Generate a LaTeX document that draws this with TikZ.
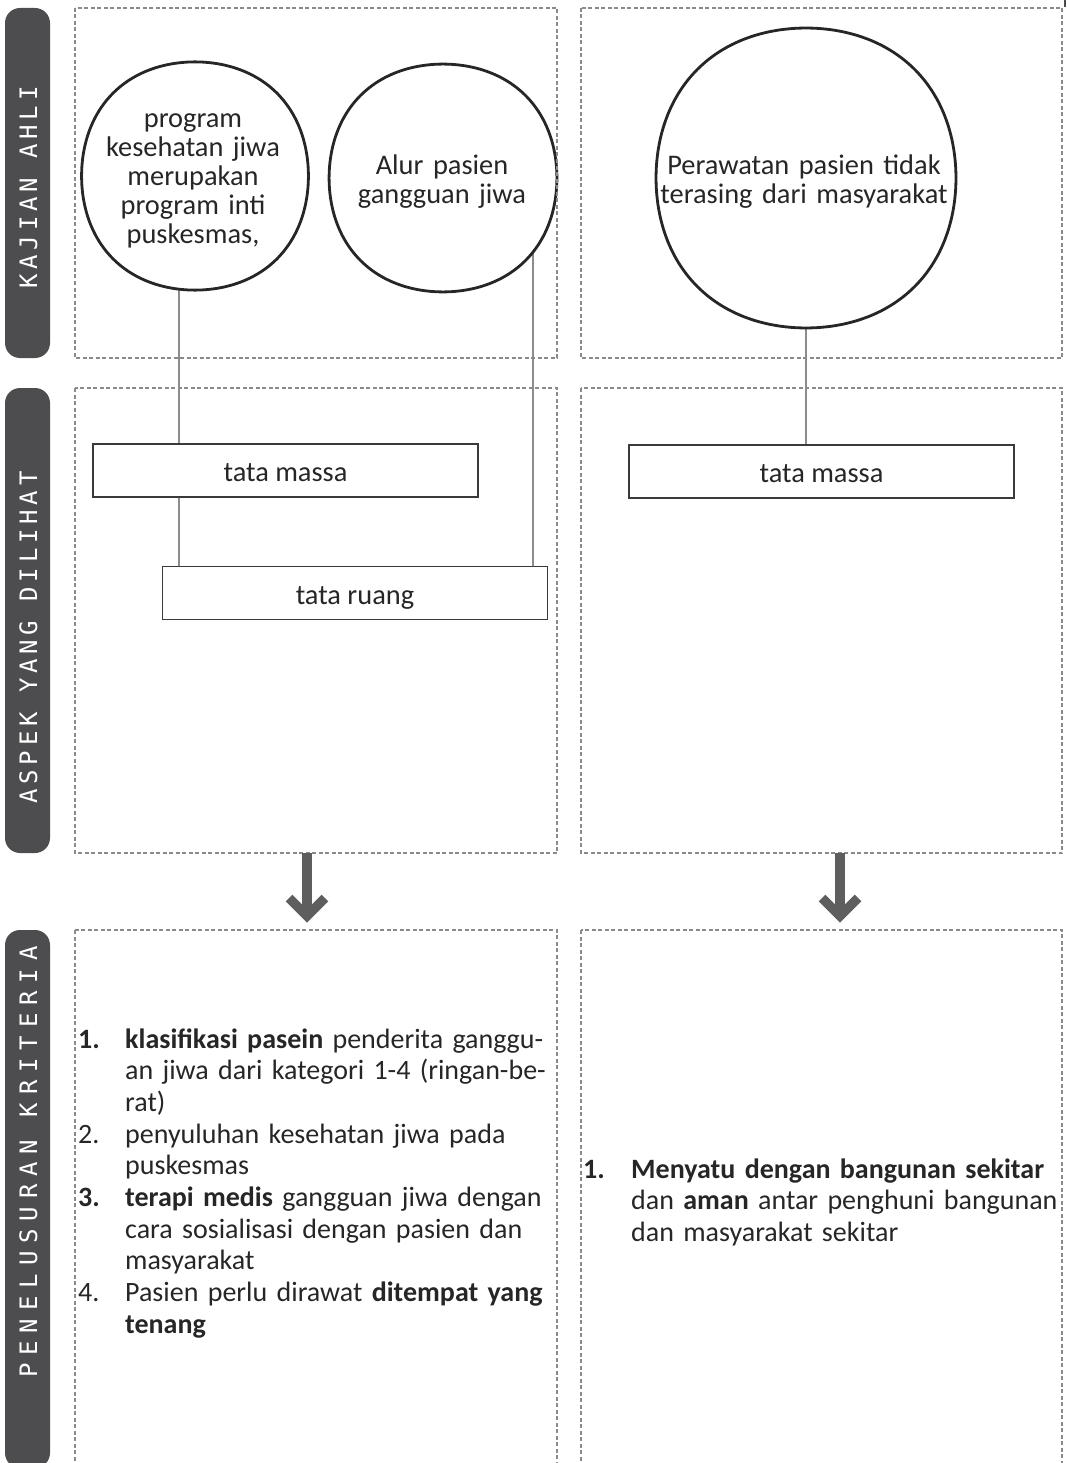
\documentclass[tikz,border=0pt]{standalone}
\usepackage{fontspec}
\setmainfont{Carlito}
\newfontfamily\tabfontA[LetterSpace=20]{DejaVu Sans Mono}
\newfontfamily\tabfontB[LetterSpace=33]{DejaVu Sans Mono}
\usetikzlibrary{calc}
\pgfdeclarelayer{links}
\pgfdeclarelayer{shapes}
\pgfsetlayers{links,shapes,main}

\definecolor{ink}{HTML}{262626}
\definecolor{tabgray}{HTML}{4D4D4F}
\definecolor{dashgray}{HTML}{8A8A8A}
\definecolor{linkgray}{HTML}{8C8C8C}
\definecolor{boxgray}{HTML}{3A3A3A}
\definecolor{arrowgray}{HTML}{5E5E5E}

% list item with hanging number
\newcommand\listitem[3]{\noindent\hangindent=#1\hangafter=1\makebox[#1][l]{#2}#3\par}

\begin{document}
\begin{tikzpicture}[x=1pt,y=-1pt,
  panel/.style={draw=dashgray, line width=1.2pt, dash pattern=on 4pt off 2.5pt},
  tabbar/.style={fill=tabgray, rounded corners=15pt},
  tablabel/.style={rotate=90, text=white, inner sep=0pt},
  blob/.style={draw=ink, line width=2.8pt, fill=white},
  anchorcircle/.style={circle, inner sep=0pt, draw=none},
  bubbletext/.style={text=ink, inner sep=0pt, align=center, font=\fontsize{28.4}{29}\selectfont},
  aspectbox/.style={draw=boxgray, line width=1.4pt, fill=white, minimum width=385pt,
    minimum height=53pt, inner sep=0pt, text height=22pt, text depth=0pt,
    text=ink, font=\fontsize{28.4}{29}\selectfont},
  link/.style={draw=linkgray, line width=1.5pt},
  bigarrow/.style={draw=arrowgray, line width=9.5pt},
  listtext/.style={text=ink, inner sep=0pt, text width=540pt,
    font=\fontsize{28}{31.7}\selectfont}
]
\useasboundingbox (0,0) rectangle (1066,1463);
\clip (0,0) rectangle (1066,1463);

% side bars with their titles
\fill[tabbar] (5,8) rectangle (50,358);
\fill[tabbar] (5,388) rectangle (50,853);
\fill[tabbar] (5,930) rectangle (50,1468);
\node[tablabel, font=\tabfontA\fontsize{24}{24}\selectfont] (lab1) at (28.5,187.5) {KAJIAN AHLI};
\node[tablabel, font=\tabfontA\fontsize{24}{24}\selectfont] (lab2) at (28.5,637.5) {ASPEK YANG DILIHAT};
\node[tablabel, font=\tabfontB\fontsize{24}{24}\selectfont] (lab3) at (28.5,1162) {PENELUSURAN KRITERIA};

% dashed panels
\draw[panel] (75,8) rectangle (557,358);
\draw[panel] (581,8) rectangle (1062,358);
\draw[panel] (75,388) rectangle (557,853);
\draw[panel] (581,388) rectangle (1062,853);
\draw[panel] (75,930) rectangle (557,1480);
\draw[panel] (581,930) rectangle (1062,1480);
\draw[draw=tabgray, line width=2pt] (1065,0) -- (1065,7);

% bubbles
\node[anchorcircle, minimum size=228pt] (c1) at (195,176) {};
\node[anchorcircle, minimum size=228pt] (c2) at (443,178) {};
\node[anchorcircle, minimum size=302pt] (c3) at (806,178) {};
\begin{pgfonlayer}{shapes}
\draw[blob, shift={(c1.center)}] plot[smooth cycle, domain=0:355, samples=72]
  ({114.8*(1-0.012*cos(4*\x))*cos(\x)}, {115.5*(1-0.012*cos(4*\x))*sin(\x)});
\draw[blob, shift={(c2.center)}] plot[smooth cycle, domain=0:355, samples=72]
  ({115.3*(1-0.012*cos(4*\x))*cos(\x)}, {115.3*(1-0.012*cos(4*\x))*sin(\x)});
\draw[blob, shift={(c3.center)}] plot[smooth cycle, domain=0:355, samples=72]
  ({151.8*(1-0.012*cos(4*\x))*cos(\x)}, {151.8*(1-0.012*cos(4*\x))*sin(\x)});
\end{pgfonlayer}
\node[bubbletext, text width=240pt, anchor=base] (t1) at (193,128)
  {program\\kesehatan jiwa\\merupakan\\program inti\\puskesmas,};
\node[bubbletext, text width=240pt, anchor=base] (t2) at (442,175)
  {Alur pasien\\gangguan jiwa};
\node[bubbletext, text width=310pt, anchor=base] (t3) at (804,175)
  {Perawatan pasien tidak\\terasing dari masyarakat};

% aspect boxes
\node[aspectbox] (m1) at (285.5,470.5) {tata massa};
\node[aspectbox] (r1) at (355,593) {tata ruang};
\node[aspectbox] (m2) at (821.5,471.5) {tata massa};

% connectors
\coordinate (lx1) at (179,0);
\coordinate (lx2) at (533,0);
\begin{pgfonlayer}{links}
\draw[link] (c1.center -| lx1) -- (m1.north -| lx1);
\draw[link] (m1.south -| lx1) -- (r1.north -| lx1);
\draw[link] (c2.center -| lx2) -- (r1.north -| lx2);
\draw[link] (c3.center) -- (c3.center |- m2.north);
\end{pgfonlayer}

% arrows between rows
\coordinate (aL0) at (307,853);
\coordinate (aL1) at (307,916);
\coordinate (aR0) at (840,853);
\coordinate (aR1) at (840,916);
\draw[bigarrow] (aL0) -- (aL1);
\draw[bigarrow, line join=miter] ($(aL1)+(-18,-18)$) -- (aL1) -- ($(aL1)+(18,-18)$);
\draw[bigarrow] (aR0) -- (aR1);
\draw[bigarrow, line join=miter] ($(aR1)+(-18,-18)$) -- (aR1) -- ($(aR1)+(18,-18)$);

% criteria lists
\node[listtext, anchor=base west] (k1) at (78,1048) {%
  \listitem{47pt}{\textbf{1.}}{\textbf{klasifikasi pasein} penderita ganggu-\newline an jiwa dari kategori 1-4 (ringan-be-\newline rat)}%
  \listitem{47pt}{2.}{penyuluhan kesehatan jiwa pada\newline puskesmas}%
  \listitem{47pt}{\textbf{3.}}{\textbf{terapi medis} gangguan jiwa dengan\newline cara sosialisasi dengan pasien dan\newline masyarakat}%
  \listitem{47pt}{4.}{Pasien perlu dirawat \textbf{ditempat yang}\newline\textbf{tenang}}};
\node[listtext, anchor=base west] (k2) at (583,1178) {%
  \listitem{48pt}{\textbf{1.}}{\textbf{Menyatu dengan bangunan sekitar}\newline dan \textbf{aman} antar penghuni bangunan\newline dan masyarakat sekitar}};
\end{tikzpicture}
\end{document}
